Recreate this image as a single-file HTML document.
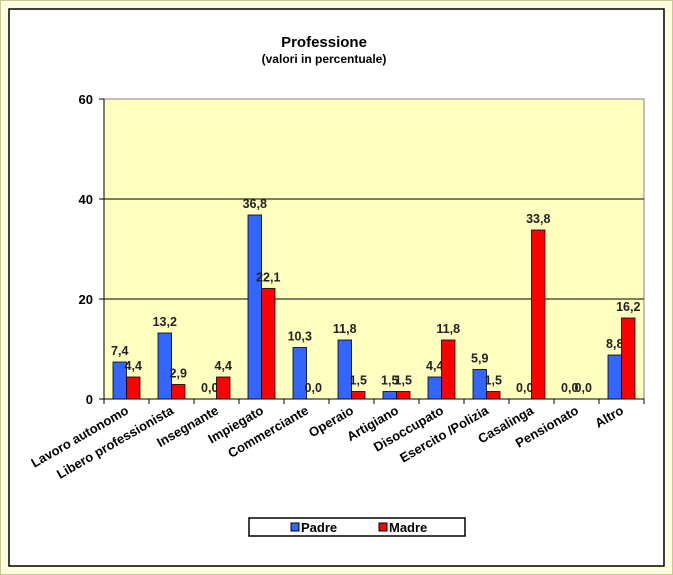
<!DOCTYPE html>
<html><head><meta charset="utf-8"><style>
body{margin:0;width:673px;height:575px;background:#ffffe0;font-family:"Liberation Sans",Arial,sans-serif;overflow:hidden}
svg{position:absolute;left:0;top:0}
</style></head><body>
<svg width="673" height="575" font-family="Liberation Sans, Arial, sans-serif">
<rect x="0.5" y="0.5" width="672" height="574" fill="#ffffe0" stroke="#c8c890"/>
<rect x="9" y="9" width="655" height="557" fill="#fff" stroke="#000" stroke-width="1.5"/>
<text x="324" y="47" text-anchor="middle" font-weight="bold" font-size="15">Professione</text>
<text x="324" y="63" text-anchor="middle" font-weight="bold" font-size="12">(valori in percentuale)</text>
<rect x="104" y="99" width="540" height="300" fill="#ffffc0" stroke="#808080"/>
<g id="g"></g>
<rect x="249" y="518" width="216" height="18" fill="#fff" stroke="#000" stroke-width="1.5"/>
<g><rect x="291" y="523" width="8" height="8" fill="#3366ff" stroke="#000"/><text x="301" y="532" font-size="13" font-weight="bold">Padre</text></g>
<g><rect x="379" y="523" width="8" height="8" fill="#ff0000" stroke="#000"/><text x="389" y="532" font-size="13" font-weight="bold">Madre</text></g>
</svg>
<script>
const categories=["Lavoro autonomo","Libero professionista","Insegnante","Impiegato","Commerciante","Operaio","Artigiano","Disoccupato","Esercito /Polizia","Casalinga","Pensionato","Altro"];
const padre=[7.4,13.2,0.0,36.8,10.3,11.8,1.5,4.4,5.9,0.0,0.0,8.8];
const madre=[4.4,2.9,4.4,22.1,0.0,1.5,1.5,11.8,1.5,33.8,0.0,16.2];
const yTicks=[0,20,40,60];
const NS="http://www.w3.org/2000/svg";
const g=document.getElementById('g');
const X0=104,CW=45,Y0=399,H=300,YMAX=60;
const y=v=>Y0-v/YMAX*H;
const x=i=>X0+i*CW;
function mk(t,a,txt){const e=document.createElementNS(NS,t);for(const k in a)e.setAttribute(k,a[k]);if(txt!=null)e.textContent=txt;g.appendChild(e);return e;}
yTicks.forEach(t=>{
 if(t>0&&t<YMAX){const l=mk('line',{x1:X0,x2:X0+540,y1:y(t),y2:y(t),stroke:'#000'});
 
 }
 mk('line',{x1:X0-5,x2:X0,y1:y(t),y2:y(t),stroke:'#000'});
 const tx=mk('text',{x:X0-11,y:y(t)+5,'text-anchor':'end','font-size':'13','font-weight':'bold'},String(t));
 
 
});
mk('line',{x1:X0,x2:X0,y1:99,y2:Y0,stroke:'#000'});
mk('line',{x1:X0,x2:X0+540,y1:Y0,y2:Y0,stroke:'#000'});
const fmt=v=>v.toFixed(1).replace('.',',');
categories.forEach((c,i)=>{
 mk('line',{x1:x(i),x2:x(i),y1:Y0,y2:Y0+5,stroke:'#000'});
 if(i==categories.length-1)mk('line',{x1:x(i+1),x2:x(i+1),y1:Y0,y2:Y0+5,stroke:'#000'});
 [[padre,'#3366ff',9,'padre'],[madre,'#ff0000',22.5,'madre']].forEach(([arr,col,off,nm])=>{
  const v=arr[i];
  const r=mk('rect',{x:x(i)+off,y:y(v),width:13.5,height:Y0-y(v),fill:col,stroke:'#000','stroke-width':'0.8'});
  
  
  const t=mk('text',{x:x(i)+off+6.75,y:y(v)-7,'text-anchor':'middle','font-size':'12.5','font-weight':'bold',fill:'#222'},fmt(v));
  
  
 });
 const cx=x(i)+CW/2+3;
 const lb=mk('text',{x:cx,y:Y0+14,'text-anchor':'end','font-size':'13','font-weight':'bold',transform:`rotate(-30 ${cx} ${Y0+14})`},c);
 
 
});
</script>
</body></html>
